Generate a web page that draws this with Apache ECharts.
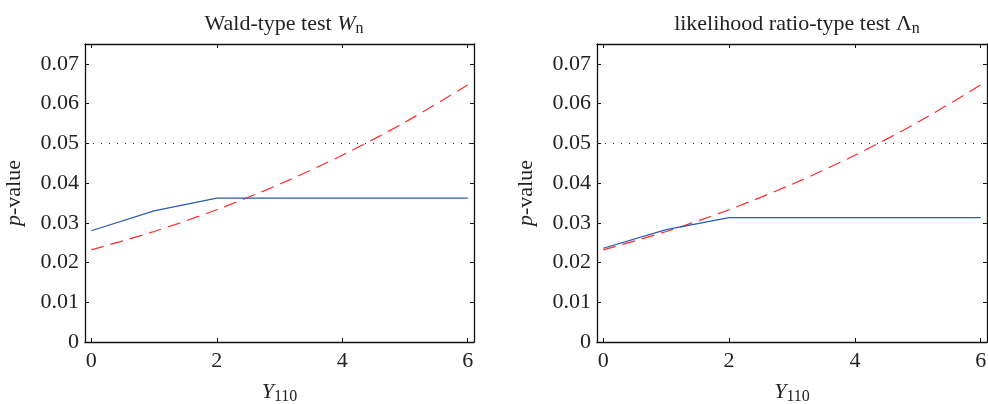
<!DOCTYPE html>
<html>
<head>
<meta charset="utf-8">
<script src="https://cdn.jsdelivr.net/npm/echarts@6/dist/echarts.min.js"></script>
<style>
html,body{margin:0;padding:0;background:#fff;}
#main{width:988px;height:404px;}
</style>
</head>
<body>
<div id="main"></div>
<script>
// Y110 values
var xs = [0, 1, 2, 3, 4, 5, 6];
// Wald-type test
var waldObs = [0.0280, 0.0330, 0.0362, 0.0362, 0.0362, 0.0362, 0.0362];
var waldRef = [0.0232, 0.0278, 0.0333, 0.0397, 0.0470, 0.0553, 0.0647];
// likelihood ratio-type test
var lrObs = [0.0236, 0.0283, 0.0313, 0.0313, 0.0313, 0.0313, 0.0313];
var lrRef = [0.0232, 0.0278, 0.0333, 0.0397, 0.0470, 0.0553, 0.0647];
var alpha = 0.05;
var xTicks = [0, 2, 4, 6];
var yTicks = [0, 0.01, 0.02, 0.03, 0.04, 0.05, 0.06, 0.07];

var FONT = 'Liberation Serif';
var BLUE = '#2b5bb0';
var RED = '#ff2a2a';

function pairs(x, y){
	var out = [];
	for(var i=0;i<x.length;i++){ out.push([x[i], y[i]]); }
	return out;
}

var rich = {
	a: {fontFamily: FONT, fontSize: 22, fontWeight: 'normal', color: '#222', lineHeight: 26},
	i: {fontFamily: FONT, fontSize: 22, fontWeight: 'normal', fontStyle: 'italic', color: '#222', lineHeight: 26},
	s: {fontFamily: FONT, fontSize: 16, fontWeight: 'normal', color: '#222', lineHeight: 16, verticalAlign: 'bottom'}
};

var myChart = echarts.init(document.getElementById('main'));
var grids = [
	{left: 85, top: 44, width: 389, height: 298, outerBoundsMode: 'none', containLabel: false},
	{left: 597, top: 44, width: 390, height: 298, outerBoundsMode: 'none', containLabel: false}
];
var xAxes = [], yAxes = [], series = [];
var obsList = [waldObs, lrObs], refList = [waldRef, lrRef];
var lineSt = {color: '#111', width: 1.3};
for(var g=0; g<2; g++){
	xAxes.push({
		gridIndex: g, type: 'value', min: -0.1, max: 6.1, position: 'bottom',
		name: '{i|Y}{s|110}', nameLocation: 'middle', nameGap: 37,
		nameTextStyle: {rich: rich},
		axisLine: {onZero: false, lineStyle: lineSt},
		axisTick: {inside: true, length: 4, customValues: xTicks, lineStyle: {color: '#111'}},
		axisLabel: {customValues: xTicks, fontFamily: FONT, fontSize: 22, color: '#222', margin: 8},
		splitLine: {show: false}
	});
	xAxes.push({
		gridIndex: g, type: 'value', min: -0.1, max: 6.1, position: 'top', show: true,
		axisLine: {show: true, onZero: false, lineStyle: lineSt},
		axisTick: {show: true, inside: true, length: 4, customValues: xTicks, lineStyle: {color: '#111'}},
		axisLabel: {show: false},
		splitLine: {show: false}
	});
	yAxes.push({
		gridIndex: g, type: 'value', min: 0, max: 0.075, position: 'left',
		name: '{i|p}{a|-value}', nameLocation: 'middle', nameGap: 58, nameRotate: 90,
		nameTextStyle: {rich: rich},
		axisLine: {show: true, onZero: false, lineStyle: lineSt},
		axisTick: {show: true, inside: true, length: 4, customValues: yTicks, lineStyle: {color: '#111'}},
		axisLabel: {customValues: yTicks, fontFamily: FONT, fontSize: 22, color: '#222', margin: 6,
			formatter: function(v){ return v === 0 ? '0' : v.toFixed(2); }},
		splitLine: {show: false}
	});
	yAxes.push({
		gridIndex: g, type: 'value', min: 0, max: 0.075, position: 'right', show: true,
		axisLine: {show: true, onZero: false, lineStyle: lineSt},
		axisTick: {show: true, inside: true, length: 4, customValues: yTicks, lineStyle: {color: '#111'}},
		axisLabel: {show: false},
		splitLine: {show: false}
	});
	series.push({
		type: 'line', xAxisIndex: g*2, yAxisIndex: g*2, data: pairs(xs, refList[g]),
		smooth: 0.3, showSymbol: false, lineStyle: {color: RED, width: 1.2, type: [13, 7]},
		markLine: {silent: true, symbol: 'none', label: {show: false},
			lineStyle: {color: '#333', width: 1, type: [1, 7]},
			data: [{yAxis: alpha}]},
		z: 2
	});
	series.push({
		type: 'line', xAxisIndex: g*2, yAxisIndex: g*2, data: pairs(xs, obsList[g]),
		showSymbol: false, lineStyle: {color: BLUE, width: 1.2}, z: 3
	});
	// empty series so the top/right axes are drawn
	series.push({
		type: 'line', xAxisIndex: g*2+1, yAxisIndex: g*2+1, data: [],
		showSymbol: false, silent: true
	});
}

var option = {
	animation: false,
	backgroundColor: '#fff',
	title: [
		{text: '{a|Wald-type test }{i|W}{s|n}', left: 279, top: 6, textAlign: 'center',
			textStyle: {fontWeight: 'normal', rich: rich}},
		{text: '{a|likelihood ratio-type test }{a|Λ}{s|n}', left: 792, top: 6, textAlign: 'center',
			textStyle: {fontWeight: 'normal', rich: rich}}
	],
	grid: grids,
	xAxis: xAxes,
	yAxis: yAxes,
	series: series
};
myChart.setOption(option);
</script>
</body>
</html>
